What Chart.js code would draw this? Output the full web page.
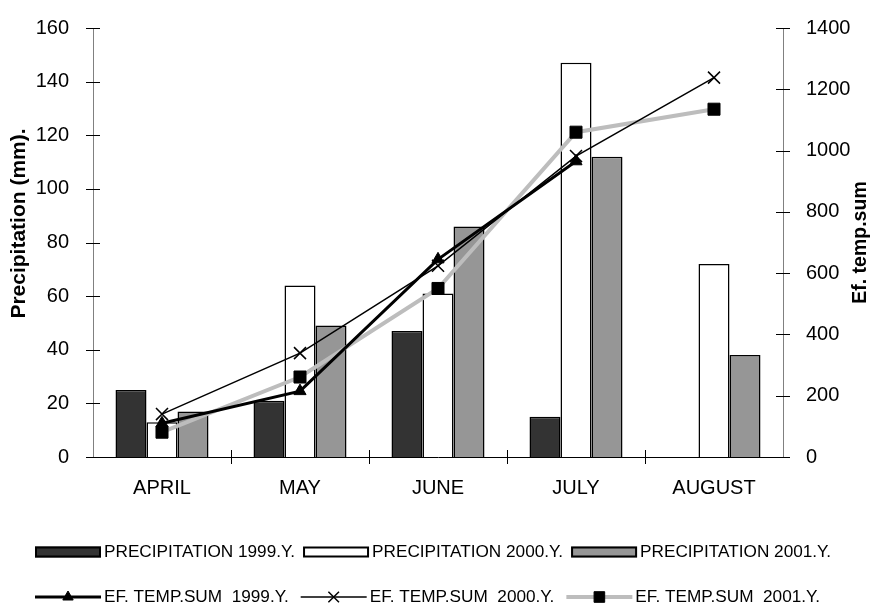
<!DOCTYPE html>
<html>
<head>
<meta charset="utf-8">
<script src="https://cdn.jsdelivr.net/npm/chart.js@4.4.1/dist/chart.umd.min.js"></script>
<style>
  html, body { margin: 0; padding: 0; background: #fff; }
  #wrap { width: 875px; height: 608px; }
</style>
</head>
<body>
<div id="wrap"><canvas id="chart" width="875" height="608"></canvas></div>
<script>
// ---- data ----
const months = ['APRIL', 'MAY', 'JUNE', 'JULY', 'AUGUST'];

const precip1999 = [25, 21, 47, 15, null];
const precip2000 = [13, 64, 61, 147, 72];
const precip2001 = [17, 49, 86, 112, 38];

const temp1999 = [110, 215, 645, 965, null];
const temp2000 = [140, 339, 624, 982, 1238];
const temp2001 = [81, 261, 550, 1060, 1135];

const precipTicks = [0, 20, 40, 60, 80, 100, 120, 140, 160];
const tempTicks = [0, 200, 400, 600, 800, 1000, 1200, 1400];

const leftTitle = 'Precipitation (mm).';
const rightTitle = 'Ef. temp.sum';

const FONT = 'Liberation Sans, Arial, Helvetica, sans-serif';
Chart.defaults.font.family = FONT;
Chart.defaults.color = '#000';

// tick marks that cross the axis lines, axis titles, and the legend
const extras = {
  id: 'extras',
  afterDraw(chart) {
    const ctx = chart.ctx;
    const area = chart.chartArea;
    const x = chart.scales.x, y = chart.scales.y, y1 = chart.scales.y1;
    const t = 7;

    ctx.save();
    ctx.strokeStyle = '#000';
    ctx.lineWidth = 1;
    ctx.beginPath();
    precipTicks.forEach(v => {
      const py = Math.round(y.getPixelForValue(v)) + 0.5;
      ctx.moveTo(area.left - t, py); ctx.lineTo(area.left + t, py);
    });
    tempTicks.forEach(v => {
      const py = Math.round(y1.getPixelForValue(v)) + 0.5;
      ctx.moveTo(area.right - t, py); ctx.lineTo(area.right + t, py);
    });
    const half = (x.getPixelForValue(1) - x.getPixelForValue(0)) / 2;
    for (let i = 1; i < months.length; i++) {
      const px = Math.round(x.getPixelForValue(i) - half) + 0.5;
      ctx.moveTo(px, area.bottom - t); ctx.lineTo(px, area.bottom + t);
    }
    ctx.stroke();

    // axis titles, both read bottom to top
    ctx.fillStyle = '#000';
    ctx.textAlign = 'center';
    ctx.textBaseline = 'middle';
    const cy = (area.top + area.bottom) / 2;
    [[19, cy - 19, leftTitle, 21], [861, cy, rightTitle, 19.5]].forEach(([tx, ty, txt, size]) => {
      ctx.save();
      ctx.font = 'bold ' + size + 'px ' + FONT;
      ctx.translate(tx, ty);
      ctx.rotate(-Math.PI / 2);
      ctx.fillText(txt, 0, 0);
      ctx.restore();
    });

    // legend
    ctx.font = '17.2px ' + FONT;
    ctx.textAlign = 'left';
    const sw = 66;
    const rows = [
      { y: chart.height - 56, sets: [0, 1, 2], gap: 8 },
      { y: chart.height - 11, sets: [3, 4, 5], gap: 12 }
    ];
    rows.forEach(row => {
      let lx = 35;
      row.sets.forEach(di => {
        const ds = chart.data.datasets[di];
        if (ds.type === 'bar') {
          ctx.fillStyle = ds.backgroundColor;
          ctx.fillRect(lx, row.y - 5.5, sw, 11);
          ctx.strokeStyle = '#000';
          ctx.lineWidth = 2;
          ctx.strokeRect(lx + 1, row.y - 4.5, sw - 2, 9);
        } else {
          ctx.strokeStyle = ds.borderColor;
          ctx.lineWidth = ds.borderWidth;
          ctx.beginPath();
          ctx.moveTo(lx, row.y); ctx.lineTo(lx + sw, row.y);
          ctx.stroke();
          ctx.fillStyle = ds.pointBackgroundColor;
          ctx.strokeStyle = ds.pointBorderColor;
          ctx.lineWidth = ds.pointBorderWidth;
          Chart.helpers.drawPoint(ctx, {
            pointStyle: ds.pointStyle, radius: ds.pointRadius - 1,
            rotation: 0, borderWidth: ds.pointBorderWidth
          }, lx + sw / 2, row.y);
        }
        ctx.fillStyle = '#000';
        ctx.fillText(ds.label, lx + sw + 3, row.y);
        lx += sw + 3 + ctx.measureText(ds.label).width + row.gap;
      });
    });
    ctx.restore();
  }
};

const barBase = {
  type: 'bar', yAxisID: 'y', borderColor: '#000', borderWidth: 1.5,
  categoryPercentage: 0.674, barPercentage: 1.0, order: 10
};
const lineBase = {
  type: 'line', yAxisID: 'y1', fill: false, tension: 0,
  pointBackgroundColor: '#000', pointBorderColor: '#000'
};

new Chart(document.getElementById('chart'), {
  data: {
    labels: months,
    datasets: [
      { ...barBase, label: 'PRECIPITATION 1999.Y.', data: precip1999, backgroundColor: '#333333' },
      { ...barBase, label: 'PRECIPITATION 2000.Y.', data: precip2000, backgroundColor: '#ffffff' },
      { ...barBase, label: 'PRECIPITATION 2001.Y.', data: precip2001, backgroundColor: '#969696' },
      { ...lineBase, label: 'EF. TEMP.SUM  1999.Y.', data: temp1999, borderColor: '#000', borderWidth: 3,
        pointStyle: 'triangle', pointRadius: 7, pointBorderWidth: 1, order: 1 },
      { ...lineBase, label: 'EF. TEMP.SUM  2000.Y.', data: temp2000, borderColor: '#000', borderWidth: 1.5,
        pointStyle: 'crossRot', pointRadius: 8.5, pointBorderWidth: 1.5, order: 2 },
      { ...lineBase, label: 'EF. TEMP.SUM  2001.Y.', data: temp2001, borderColor: '#bdbdbd', borderWidth: 4,
        pointStyle: 'rect', pointRadius: 8.5, pointBorderWidth: 1, order: 3 }
    ]
  },
  options: {
    responsive: false,
    animation: false,
    devicePixelRatio: 1,
    layout: { padding: { top: 23, left: 0, right: 0, bottom: 0 } },
    plugins: { legend: { display: false }, tooltip: { enabled: false } },
    scales: {
      x: {
        offset: true,
        grid: { display: false },
        border: { color: '#000', width: 1 },
        ticks: { font: { size: 20 }, padding: 11, color: '#000' },
        afterFit: s => { s.height = 608 - 457; }
      },
      y: {
        position: 'left', min: 0, max: 160,
        grid: { display: false },
        border: { color: '#808080', width: 1 },
        ticks: { stepSize: 20, font: { size: 20 }, padding: 16, color: '#000' },
        afterFit: s => { s.width = 93; }
      },
      y1: {
        position: 'right', min: 0, max: 1400,
        grid: { display: false },
        border: { color: '#808080', width: 1 },
        ticks: { stepSize: 200, font: { size: 20 }, padding: 15, color: '#000',
                 callback: v => String(v) },
        afterFit: s => { s.width = 92; }
      }
    }
  },
  plugins: [extras]
});
</script>
</body>
</html>
